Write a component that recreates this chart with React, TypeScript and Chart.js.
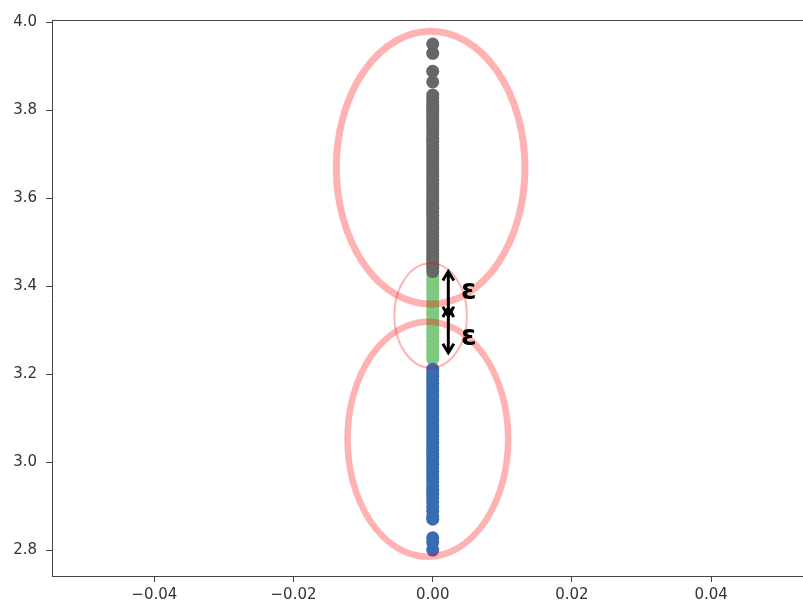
import { useEffect, useRef } from "react";
import { Chart, registerables } from "chart.js";

Chart.register(...registerables);

// Every sample sits on the same x position; only y varies.
const STRIP_X = 0;

// Noise cluster (upper group)
const upperY = [
  3.951, 3.93, 3.889, 3.865, 3.835, 3.827, 3.82, 3.812, 3.805, 3.798, 3.79, 3.783,
  3.776, 3.768, 3.76, 3.752, 3.745, 3.737, 3.73, 3.722, 3.714, 3.706, 3.698, 3.69,
  3.682, 3.674, 3.666, 3.658, 3.65, 3.642, 3.634, 3.626, 3.618, 3.61, 3.602, 3.594,
  3.586, 3.578, 3.57, 3.562, 3.554, 3.546, 3.538, 3.53, 3.522, 3.514, 3.506, 3.498,
  3.49, 3.482, 3.474, 3.466, 3.458, 3.45, 3.442, 3.434,
];

// Points inside the ε band around the split
const bridgeY = [
  3.425, 3.415, 3.405, 3.395, 3.385, 3.375, 3.365, 3.355, 3.345, 3.335, 3.325, 3.315,
  3.305, 3.295, 3.285, 3.275, 3.265, 3.255, 3.245, 3.235,
];

// Lower group
const lowerY = [
  3.212, 3.204, 3.196, 3.188, 3.18, 3.172, 3.164, 3.156, 3.148, 3.14, 3.132, 3.124,
  3.116, 3.108, 3.1, 3.092, 3.084, 3.076, 3.068, 3.06, 3.052, 3.044, 3.036, 3.028,
  3.02, 3.012, 3.004, 2.996, 2.988, 2.98, 2.972, 2.964, 2.956, 2.946, 2.937, 2.928,
  2.92, 2.911, 2.9, 2.889, 2.877, 2.871, 2.829, 2.818, 2.801,
];

const xTickValues = [-0.04, -0.02, 0, 0.02, 0.04];
const xTickLabels = ["\u22120.04", "\u22120.02", "0.00", "0.02", "0.04"];
const yTickValues = [2.8, 3.0, 3.2, 3.4, 3.6, 3.8, 4.0];
const yTickLabels = ["2.8", "3.0", "3.2", "3.4", "3.6", "3.8", "4.0"];

const X_MIN = -0.0547;
const X_MAX = 0.0532;
const Y_MIN = 2.742;
const Y_MAX = 4.0057;

// Neighbourhood outlines, in data units
const outlines = [
  { cx: -0.0003, cy: 3.670, rx: 0.01355, ry: 0.310, width: 7 },
  { cx: -0.0003, cy: 3.334, rx: 0.00522, ry: 0.1186, width: 2 },
  { cx: -0.0007, cy: 3.053, rx: 0.01154, ry: 0.267, width: 6.5 },
];

// ε arrows: x position, and [start, end] y for each
const EPS_X = 0.00224;
const epsArrows = [
  [3.434, 3.3335],
  [3.351, 3.2495],
];
const epsLabelX = 0.0052;
const epsLabelY = [3.3705, 3.267];

const AXIS_COLOR = "#444";
const TEXT_COLOR = "#333";
const FONT = "'DejaVu Sans', sans-serif";

const toPoints = (ys: number[]) => ys.map((y) => ({ x: STRIP_X, y }));

const overlay = {
  id: "overlay",
  afterDatasetsDraw(chart: any) {
    const { ctx, chartArea } = chart;
    const xs = chart.scales.x;
    const ys = chart.scales.y;
    ctx.save();

    // top frame line
    ctx.strokeStyle = AXIS_COLOR;
    ctx.lineWidth = 1;
    ctx.beginPath();
    ctx.moveTo(chartArea.left, chartArea.top + 0.5);
    ctx.lineTo(chart.width, chartArea.top + 0.5);
    ctx.stroke();

    // translucent outlines
    ctx.strokeStyle = "rgba(255,0,0,0.3)";
    outlines.forEach((o) => {
      const px = xs.getPixelForValue(o.cx);
      const py = ys.getPixelForValue(o.cy);
      const rx = Math.abs(xs.getPixelForValue(o.cx + o.rx) - px);
      const ry = Math.abs(ys.getPixelForValue(o.cy + o.ry) - py);
      ctx.lineWidth = o.width;
      ctx.beginPath();
      ctx.ellipse(px, py, rx, ry, 0, 0, Math.PI * 2);
      ctx.stroke();
    });

    // double-headed arrows
    ctx.strokeStyle = "#000";
    ctx.lineWidth = 3;
    ctx.lineCap = "butt";
    ctx.lineJoin = "miter";
    const ax = xs.getPixelForValue(EPS_X);
    const head = (tipY: number, dir: number) => {
      ctx.beginPath();
      ctx.moveTo(ax - 5.5, tipY + dir * 9);
      ctx.lineTo(ax, tipY);
      ctx.lineTo(ax + 5.5, tipY + dir * 9);
      ctx.stroke();
    };
    epsArrows.forEach(([a, b]) => {
      const y1 = ys.getPixelForValue(a);
      const y2 = ys.getPixelForValue(b);
      ctx.beginPath();
      ctx.moveTo(ax, y1 + 1);
      ctx.lineTo(ax, y2 - 1);
      ctx.stroke();
      head(y1, 1);
      head(y2, -1);
    });

    // ε labels
    ctx.fillStyle = "#000";
    ctx.font = `bold 28px ${FONT}`;
    ctx.textAlign = "center";
    ctx.textBaseline = "alphabetic";
    epsLabelY.forEach((v) => {
      ctx.fillText("\u03b5", xs.getPixelForValue(epsLabelX), ys.getPixelForValue(v));
    });

    ctx.restore();
  },
};

const dot = (ys: number[], color: string) => ({
  data: toPoints(ys),
  backgroundColor: color,
  pointRadius: 6.5,
  borderWidth: 0,
});

export default function App() {
  const ref = useRef<HTMLCanvasElement | null>(null);

  useEffect(() => {
    if (!ref.current) return;
    const chart = new Chart(ref.current, {
      type: "scatter",
      data: {
        // first dataset is drawn on top
        datasets: [dot(upperY, "#666666"), dot(lowerY, "#386cb0"), dot(bridgeY, "#7fc97f")],
      },
      options: {
        responsive: false,
        animation: false,
        devicePixelRatio: 1,
        events: [],
        layout: { autoPadding: false, padding: { top: 20, left: 0, right: 0, bottom: 0 } },
        plugins: {
          legend: { display: false },
          tooltip: { enabled: false },
        },
        scales: {
          x: {
            type: "linear",
            min: X_MIN,
            max: X_MAX,
            afterBuildTicks: (axis: any) => {
              axis.ticks = xTickValues.map((value) => ({ value }));
            },
            afterFit: (axis: any) => {
              axis.height = 28;
              axis.paddingLeft = 0;
              axis.paddingRight = 0;
            },
            grid: {
              drawOnChartArea: false,
              drawTicks: true,
              tickLength: 6,
              color: AXIS_COLOR,
              lineWidth: 1,
            },
            border: { display: true, color: AXIS_COLOR, width: 1 },
            ticks: {
              autoSkip: false,
              maxRotation: 0,
              padding: 4,
              color: TEXT_COLOR,
              font: { family: FONT, size: 15 },
              callback: (_v: any, i: number) => xTickLabels[i],
            },
          },
          y: {
            type: "linear",
            min: Y_MIN,
            max: Y_MAX,
            afterBuildTicks: (axis: any) => {
              axis.ticks = yTickValues.map((value) => ({ value }));
            },
            afterFit: (axis: any) => {
              axis.width = 52;
              axis.paddingTop = 0;
              axis.paddingBottom = 0;
            },
            grid: {
              drawOnChartArea: false,
              drawTicks: true,
              tickLength: 6,
              color: AXIS_COLOR,
              lineWidth: 1,
            },
            border: { display: true, color: AXIS_COLOR, width: 1 },
            ticks: {
              autoSkip: false,
              padding: 9,
              color: TEXT_COLOR,
              font: { family: FONT, size: 15 },
              callback: (_v: any, i: number) => yTickLabels[i],
            },
          },
        },
      },
      plugins: [overlay],
    });
    return () => chart.destroy();
  }, []);

  return (
    <div style={{ position: "absolute", left: 0, top: 0, width: 803, height: 604, overflow: "hidden", background: "#fff" }}>
      <canvas ref={ref} width={803} height={604} style={{ display: "block" }} />
    </div>
  );
}
